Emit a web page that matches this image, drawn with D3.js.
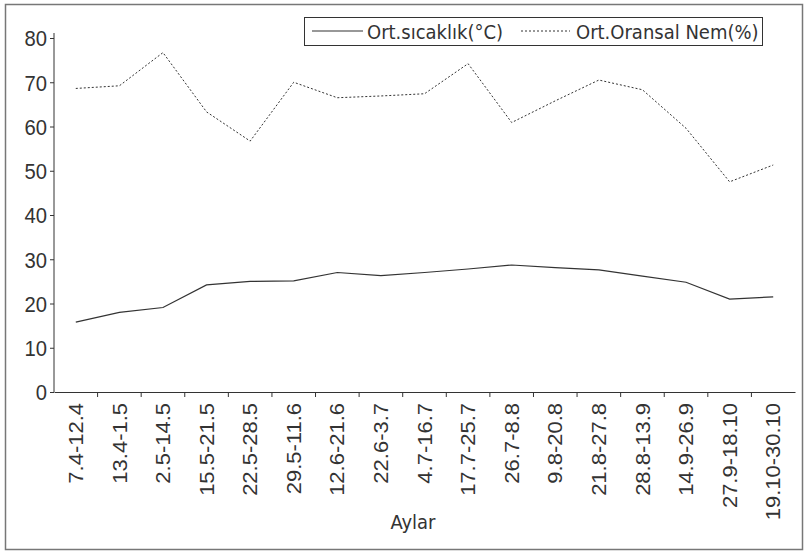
<!DOCTYPE html>
<html>
<head>
<meta charset="utf-8">
<script src="https://cdn.jsdelivr.net/npm/d3@7"></script>
<style>
  html, body { margin: 0; padding: 0; background: #fff; }
  svg { display: block; }
</style>
</head>
<body>
<svg id="chart" width="807" height="552"></svg>
<script>
const categories = ["7.4-12.4","13.4-1.5","2.5-14.5","15.5-21.5","22.5-28.5","29.5-11.6","12.6-21.6","22.6-3.7","4.7-16.7","17.7-25.7","26.7-8.8","9.8-20.8","21.8-27.8","28.8-13.9","14.9-26.9","27.9-18.10","19.10-30.10"];
const temperature = [15.8, 18.0, 19.1, 24.2, 25.0, 25.1, 27.0, 26.3, 27.0, 27.8, 28.7, 28.1, 27.6, 26.2, 24.8, 21.0, 21.5];
const humidity = [68.6, 69.2, 76.7, 63.3, 56.7, 70.0, 66.5, 66.9, 67.4, 74.2, 60.9, 65.8, 70.5, 68.3, 59.6, 47.5, 51.3];
const yTicks = [0, 10, 20, 30, 40, 50, 60, 70, 80];
const seriesNames = ["Ort.sıcaklık(°C)", "Ort.Oransal Nem(%)"];
const xTitle = "Aylar";

(function () {
const svg = d3.select("#chart");
const ink = "#333";
const narrow = "'DejaVu Sans Condensed', 'Arial Narrow', sans-serif";

// outer frame
svg.append("rect").attr("x", 5.5).attr("y", 4.5).attr("width", 797).attr("height", 545)
  .attr("fill", "none").attr("stroke", "#777").attr("stroke-width", 1.5);

const pLeft = 54, pRight = 795, pTop = 38, pBottom = 392;
const x = d3.scaleBand().domain(categories).range([pLeft, pRight]).paddingInner(0).paddingOuter(0);
const y = d3.scaleLinear().domain([0, 80]).range([pBottom, pTop]);

// y axis
const yAxis = svg.append("g").attr("transform", `translate(${pLeft},0)`)
  .call(d3.axisLeft(y).tickValues(yTicks).tickSize(4).tickSizeOuter(0));
yAxis.select(".domain").attr("stroke", ink).attr("d", `M0,${pTop - 5}V${pBottom}`);
yAxis.selectAll(".tick line").attr("stroke", ink);
yAxis.selectAll(".tick text").attr("fill", ink)
  .attr("font-family", "'Liberation Sans', Arial, sans-serif")
  .attr("font-size", 22).attr("x", 0).attr("dy", "0.36em")
  .attr("transform", "translate(-7,0) scale(0.92,1)");

// x axis
const xAxis = svg.append("g").attr("transform", `translate(0,${pBottom})`)
  .call(d3.axisBottom(x).tickSize(0).tickSizeOuter(0));
xAxis.select(".domain").attr("stroke", ink);
xAxis.selectAll(".bound").data(categories.slice(1)).enter().append("line")
  .attr("class", "bound")
  .attr("x1", d => x(d)).attr("x2", d => x(d))
  .attr("y1", 0).attr("y2", 5).attr("stroke", ink);
xAxis.selectAll(".tick text")
  .attr("fill", ink)
  .attr("font-family", "'Liberation Sans', Arial, sans-serif")
  .attr("font-size", 22)
  .attr("transform", "rotate(-90) scale(1,0.9)")
  .attr("text-anchor", "end")
  .attr("x", -11).attr("y", 0).attr("dy", "0.36em");

// lines
const lineGen = d3.line().x((d, i) => x(categories[i]) + x.bandwidth() / 2).y(d => y(d));
svg.append("path").datum(temperature).attr("d", lineGen)
  .attr("fill", "none").attr("stroke", ink).attr("stroke-width", 1.2);
svg.append("path").datum(humidity).attr("d", lineGen)
  .attr("fill", "none").attr("stroke", ink).attr("stroke-width", 1).attr("stroke-dasharray", "2,2");

// x title
svg.append("text").attr("x", 413).attr("y", 529).attr("text-anchor", "middle")
  .attr("font-family", narrow).attr("font-size", 20).attr("fill", ink).text(xTitle);

// legend
const lg = svg.append("g");
lg.append("rect").attr("x", 304.5).attr("y", 17.5).attr("width", 458).attr("height", 28)
  .attr("fill", "#fff").attr("stroke", ink).attr("stroke-width", 1);
lg.append("line").attr("x1", 312).attr("x2", 363).attr("y1", 31).attr("y2", 31)
  .attr("stroke", ink).attr("stroke-width", 1.2);
lg.append("text").attr("x", 367).attr("y", 38.5).attr("font-family", narrow)
  .attr("font-size", 20).attr("fill", ink).text(seriesNames[0]);
lg.append("line").attr("x1", 521).attr("x2", 570).attr("y1", 31).attr("y2", 31)
  .attr("stroke", ink).attr("stroke-width", 1).attr("stroke-dasharray", "2,2");
lg.append("text").attr("x", 576).attr("y", 38.5).attr("font-family", narrow)
  .attr("font-size", 20).attr("fill", ink).text(seriesNames[1]);
})();
</script>
</body>
</html>
